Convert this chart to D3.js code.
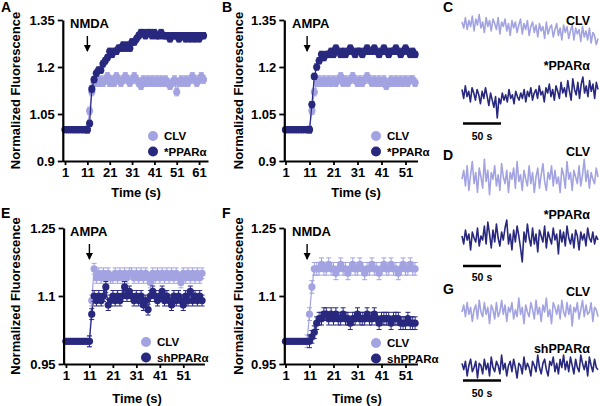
<!DOCTYPE html>
<html><head><meta charset="utf-8">
<script src="https://cdn.jsdelivr.net/npm/d3@7"></script>
<style>
body{margin:0;background:#fff;}
svg{display:block;font-family:"Liberation Sans",Arial,sans-serif;font-weight:bold;}
</style></head><body>
<svg id="c" width="600" height="406"></svg>
<script>
const LIGHT = "#a3a3e2", DARK = "#28287f";

// ---------- Panel data (sampled every 1 s, t = index + 1) ----------
const A_CLV = [1.00,1.00,1.00,1.00,1.00,1.00,1.00,1.00,1.00,1.00,1.00,
  1.06,1.12,1.15,1.16,1.15,1.16,1.15,1.16,1.17,1.15,1.16,1.15,1.17,1.16,1.15,1.16,1.17,1.16,1.15,
  1.16,1.17,1.16,1.15,1.14,1.16,1.15,1.16,1.15,1.16,1.15,1.16,1.15,1.16,1.15,1.16,1.15,1.14,1.15,1.16,
  1.12,1.15,1.16,1.15,1.16,1.15,1.16,1.17,1.16,1.15,1.16,1.17,1.16];
const A_PPAR = [1.00,1.00,1.00,1.00,1.00,1.00,1.00,1.00,1.00,1.00,1.00,
  1.02,1.13,1.16,1.18,1.19,1.19,1.21,1.22,1.23,1.25,1.24,1.25,1.25,1.26,1.26,1.27,1.26,1.27,1.26,
  1.28,1.28,1.29,1.30,1.31,1.31,1.30,1.31,1.31,1.30,1.31,1.30,1.30,1.31,1.30,1.30,1.30,1.29,1.30,1.30,
  1.30,1.29,1.30,1.30,1.29,1.30,1.29,1.30,1.29,1.30,1.29,1.30,1.30];

const B_CLV = [1.00,1.00,1.00,1.00,1.00,1.00,1.00,1.00,1.00,1.00,1.00,
  1.06,1.12,1.15,1.16,1.15,1.16,1.15,1.16,1.15,1.16,1.15,1.16,1.17,1.15,1.16,1.15,1.16,1.17,1.16,
  1.15,1.16,1.15,1.16,1.17,1.16,1.15,1.16,1.15,1.16,1.15,1.16,1.14,1.15,1.16,1.15,1.16,1.15,1.16,1.15,
  1.16,1.15,1.16,1.16,1.15];
const B_PPAR = [1.00,1.00,1.00,1.00,1.00,1.00,1.00,1.00,1.00,1.00,1.00,
  1.08,1.17,1.20,1.22,1.24,1.23,1.24,1.24,1.25,1.24,1.26,1.25,1.24,1.25,1.24,1.25,1.26,1.25,1.24,
  1.25,1.25,1.24,1.25,1.26,1.25,1.25,1.26,1.25,1.24,1.25,1.26,1.25,1.24,1.25,1.25,1.26,1.25,1.24,1.25,
  1.26,1.25,1.24,1.25,1.24];

const E_CLV = [1.00,1.00,1.00,1.00,1.00,1.00,1.00,1.00,1.00,1.00,1.00,
  1.09,1.16,1.14,1.15,1.14,1.15,1.14,1.15,1.14,1.14,1.15,1.14,1.15,1.14,1.15,1.14,1.15,1.15,1.14,
  1.15,1.14,1.15,1.14,1.15,1.14,1.13,1.15,1.14,1.15,1.14,1.15,1.14,1.15,1.14,1.15,1.14,1.15,1.14,1.13,
  1.15,1.14,1.15,1.14,1.15,1.14,1.15,1.14,1.15];
const E_SH = [1.00,1.00,1.00,1.00,1.00,1.00,1.00,1.00,1.00,1.00,1.00,
  1.06,1.10,1.09,1.10,1.09,1.10,1.12,1.08,1.09,1.10,1.09,1.10,1.09,1.10,1.12,1.10,1.11,1.10,1.09,
  1.10,1.09,1.10,1.08,1.09,1.07,1.10,1.11,1.10,1.09,1.10,1.11,1.09,1.10,1.09,1.08,1.10,1.09,1.10,1.09,
  1.08,1.10,1.09,1.11,1.09,1.10,1.09,1.10,1.09];

const F_CLV = [1.00,1.00,1.00,1.00,1.00,1.00,1.00,1.00,1.00,1.00,
  1.06,1.12,1.16,1.16,1.16,1.17,1.16,1.16,1.17,1.16,1.16,1.15,1.16,1.17,1.16,1.16,1.15,1.16,1.17,1.16,
  1.16,1.17,1.16,1.15,1.16,1.16,1.17,1.16,1.16,1.15,1.16,1.17,1.16,1.16,1.17,1.16,1.16,1.15,1.16,1.17,
  1.16,1.16,1.17,1.16,1.16];
const F_SH = [1.00,1.00,1.00,1.00,1.00,1.00,1.00,1.00,1.00,1.00,1.00,
  1.01,1.02,1.04,1.05,1.05,1.06,1.06,1.05,1.06,1.05,1.06,1.05,1.05,1.06,1.05,1.05,1.04,1.05,1.05,
  1.06,1.05,1.05,1.05,1.06,1.05,1.05,1.06,1.05,1.04,1.05,1.05,1.05,1.05,1.04,1.05,1.05,1.05,1.04,1.04,
  1.04,1.05,1.04,1.04,1.04];

const SEM = {A_CLV:0.012, A_PPAR:0.010, B_CLV:0.012, B_PPAR:0.010, E_CLV:0.012, E_SH:0.012, F_CLV:0.014, F_SH:0.014};

// tick labels
const yTicksAB = [0.9, 1.05, 1.2, 1.35];
const yTickLabelsAB = ["0.9", "1.05", "1.2", "1.35"];
const yTicksEF = [0.95, 1.1, 1.25];
const yTickLabelsEF = ["0.95", "1.1", "1.25"];
const xTicksA = [1, 11, 21, 31, 41, 51, 61];
const xTicksBEF = [1, 11, 21, 31, 41, 51];

// ---------- Calcium traces (arbitrary units) ----------
const C_CLV = [6,2,9,1,7,3,10,0,8,4,11,2,6,-1,9,3,7,0,8,5,1,9,-2,6,3,8,0,5,-3,7,2,6,-1,4,8,-2,5,1,7,-3,3,6,-1,4,-4,5,0,3,-5,6,-2,2,4,-4,1,5,-3,2,-6,4,-1,3,-5,0,4,-6,2,-2,1,-7,3,-4,0,-6,2,-8,-1,-3,-9,-5];
const C_PPAR = [2,-3,4,-2,1,-5,3,0,-4,2,-1,-6,1,-3,3,-2,-7,0,-4,-8,-2,-14,-3,-6,0,-4,-1,-5,2,-3,-1,-6,1,-2,-4,0,-3,2,-5,1,-2,3,-4,0,2,-3,4,-1,1,-5,3,0,5,-2,2,-4,4,1,-3,6,0,3,-2,7,1,-4,8,2,-1,6,-3,5,9,0,4,-2,7,1,5,-3,6,2];
const D_CLV = [0,4,-3,6,-5,2,8,-2,3,-6,5,1,-4,9,-1,4,-7,3,0,6,-3,2,-5,7,1,-2,4,-6,3,0,5,-4,8,-1,2,-5,4,0,-3,6,-2,3,-6,1,5,-4,2,7,-1,-5,3,0,6,-3,4,-2,1,-6,5,2,-4,8,0,3,-5,4,1,-2,6,-3,2,9,-1,4,-4,3,0,-2,5,1];
const D_PPAR = [1,-3,4,-1,2,-6,3,0,-2,5,-4,1,-1,6,-3,8,2,-5,4,-2,7,0,-4,3,-1,5,9,-3,2,-6,4,-2,6,1,-5,-12,3,-2,7,0,-4,5,-3,2,-7,4,1,-2,6,-5,3,0,-3,5,-1,2,-8,4,-2,3,-4,6,0,-3,2,-5,4,1,-6,3,-1,2,-4,5,0,-2,3,-3,1,-1];
const G_CLV = [0,3,-2,4,-1,2,-4,1,3,-3,5,0,-2,4,-1,2,-5,3,1,-3,4,-2,0,5,-1,3,-4,2,0,4,-3,1,-2,6,-1,2,-5,3,0,-2,4,1,-3,5,-1,2,-4,3,0,6,-2,1,-5,4,2,-1,3,-3,5,0,-2,4,-1,3,-6,2,0,4,-3,1,5,-2,3,-1,0,4,-4,2,1,-2];
const G_SH = [2,-1,3,-4,1,4,-2,0,3,-5,2,1,-3,4,-1,2,-4,5,0,-2,3,1,-3,6,-1,2,-4,1,3,-2,4,0,-5,2,1,-3,5,-1,2,0,-4,3,1,-2,6,0,-3,2,4,-1,-4,3,1,5,-2,2,-3,4,0,6,-1,3,-2,5,1,-3,4,0,-2,6,2,-1,3,-4,5,1,-2,4,0,-1];

const svg = d3.select("#c");
svg.append("rect").attr("width",600).attr("height",406).attr("fill","#fff");

function panel(o) {
  const g = svg.append("g");
  const x = d3.scaleLinear().domain(o.xDomain).range(o.xRange);
  const y = d3.scaleLinear().domain(o.yDomain).range(o.yRange);

  o.series.forEach(s => {
    const pts = s.values.map((v, i) => ({t: i + 1, v}));
    const sg = g.append("g");
    const eb = pts.filter(p => p.t >= s.errFrom);
    sg.selectAll("line.eb").data(eb).join("line")
      .attr("x1", d => x(d.t)).attr("x2", d => x(d.t))
      .attr("y1", d => y(d.v - s.sem)).attr("y2", d => y(d.v + s.sem))
      .attr("stroke", s.color).attr("stroke-width", 1);
    sg.selectAll("line.cap").data(eb.flatMap(d => [d.v - s.sem, d.v + s.sem].map(v => ({t: d.t, v}))))
      .join("line")
      .attr("x1", d => x(d.t) - 2.5).attr("x2", d => x(d.t) + 2.5)
      .attr("y1", d => y(d.v)).attr("y2", d => y(d.v))
      .attr("stroke", s.color).attr("stroke-width", 1);
    sg.append("path").datum(pts)
      .attr("d", d3.line().x(d => x(d.t)).y(d => y(d.v)))
      .attr("fill", "none").attr("stroke", s.color).attr("stroke-width", 1.2);
    sg.selectAll("circle").data(pts).join("circle")
      .attr("cx", d => x(d.t)).attr("cy", d => y(d.v)).attr("r", 3.6)
      .attr("fill", s.color);
  });

  // axes
  const xa = g.append("g").attr("transform", `translate(0,${o.yRange[0]})`)
    .call(d3.axisBottom(x).tickValues(o.xTicks).tickSize(4).tickSizeOuter(0).tickPadding(3).tickFormat(d3.format("d")));
  const ya = g.append("g").attr("transform", `translate(${o.xRange[0]},0)`)
    .call(d3.axisLeft(y).tickValues(o.yTicks).tickSize(5).tickSizeOuter(0).tickPadding(3)
      .tickFormat((d, i) => o.yTickLabels[i]));
  [xa, ya].forEach(a => {
    a.attr("font-family", null).attr("font-size", null);
    a.select(".domain").attr("stroke", "#000").attr("stroke-width", 2.2);
    a.selectAll(".tick line").attr("stroke", "#000").attr("stroke-width", 1.8);
    a.selectAll(".tick text").attr("fill", "#000").style("font-size", "13px");
  });
  // extend y axis slightly down to meet the x axis
  g.append("line").attr("x1", o.xRange[0]).attr("x2", o.xRange[0])
    .attr("y1", o.yRange[0]).attr("y2", o.yRange[0] + 1).attr("stroke", "#000").attr("stroke-width", 2.2);

  // axis titles
  g.append("text").attr("x", o.xTitleX).attr("y", o.xTitleY).attr("text-anchor", "middle")
    .style("font-size", "13px").text("Time (s)");
  g.append("text").attr("transform", `translate(${o.yTitleX},${(o.yRange[0] + o.yRange[1]) / 2}) rotate(-90)`)
    .attr("text-anchor", "middle").attr("dy", "0.35em").style("font-size", "13px").text("Normalized Fluorescence");

  // panel letter
  g.append("text").attr("x", o.letterX).attr("y", o.letterY).style("font-size", "14px").text(o.letter);

  // stimulus annotation
  const ax = x(o.stimT);
  g.append("text").attr("x", o.stimTextX).attr("y", o.yRange[1] + 8).style("font-size", "13px").text(o.stim);
  g.append("line").attr("x1", ax).attr("x2", ax).attr("y1", o.yRange[1] + 16).attr("y2", o.yRange[1] + 31)
    .attr("stroke", "#000").attr("stroke-width", 1.4);
  g.append("path").attr("d", `M${ax - 3.5},${o.yRange[1] + 25} L${ax},${o.yRange[1] + 32} L${ax + 3.5},${o.yRange[1] + 25} Z`)
    .attr("fill", "#000");

  // legend
  o.series.forEach((s, i) => {
    const ly = o.legendY + i * 15.5;
    g.append("circle").attr("cx", o.legendX).attr("cy", ly).attr("r", 5).attr("fill", s.color);
    g.append("text").attr("x", o.legendX + 11).attr("y", ly).attr("dy", "0.35em")
      .style("font-size", "11.5px").text(s.name);
  });
}

panel({
  letter: "A", letterX: 1, letterY: 12,
  xDomain: [0, 65], xRange: [62.8, 208], xTicks: xTicksA,
  yDomain: [0.9, 1.35], yRange: [161, 20], yTicks: yTicksAB, yTickLabels: yTickLabelsAB,
  xTitleX: 136, xTitleY: 197, yTitleX: 15,
  stim: "NMDA", stimT: 11, stimTextX: 70,
  legendX: 153, legendY: 136,
  series: [
    {name: "CLV", values: A_CLV, color: LIGHT, sem: SEM.A_CLV, errFrom: 11},
    {name: "*PPARα", values: A_PPAR, color: DARK, sem: SEM.A_PPAR, errFrom: 11}
  ]
});
panel({
  letter: "B", letterX: 222, letterY: 12,
  xDomain: [0.5, 56], xRange: [284.3, 417.5], xTicks: xTicksBEF,
  yDomain: [0.9, 1.35], yRange: [161, 20], yTicks: yTicksAB, yTickLabels: yTickLabelsAB,
  xTitleX: 356, xTitleY: 197, yTitleX: 238,
  stim: "AMPA", stimT: 10, stimTextX: 292,
  legendX: 376, legendY: 136,
  series: [
    {name: "CLV", values: B_CLV, color: LIGHT, sem: SEM.B_CLV, errFrom: 11},
    {name: "*PPARα", values: B_PPAR, color: DARK, sem: SEM.B_PPAR, errFrom: 11}
  ]
});
panel({
  letter: "E", letterX: 1, letterY: 218,
  xDomain: [0, 60], xRange: [63.6, 204.4], xTicks: xTicksBEF,
  yDomain: [0.95, 1.25], yRange: [364, 228], yTicks: yTicksEF, yTickLabels: yTickLabelsEF,
  xTitleX: 137, xTitleY: 403, yTitleX: 15,
  stim: "AMPA", stimT: 11, stimTextX: 70,
  legendX: 146, legendY: 342,
  series: [
    {name: "CLV", values: E_CLV, color: LIGHT, sem: SEM.E_CLV, errFrom: 11},
    {name: "shPPARα", values: E_SH, color: DARK, sem: SEM.E_SH, errFrom: 11}
  ]
});
panel({
  letter: "F", letterX: 222, letterY: 218,
  xDomain: [0.5, 56], xRange: [284.3, 417.5], xTicks: xTicksBEF,
  yDomain: [0.95, 1.25], yRange: [364, 228], yTicks: yTicksEF, yTickLabels: yTickLabelsEF,
  xTitleX: 357, xTitleY: 403, yTitleX: 238,
  stim: "NMDA", stimT: 10, stimTextX: 292,
  legendX: 376, legendY: 343,
  series: [
    {name: "CLV", values: F_CLV, color: LIGHT, sem: SEM.F_CLV, errFrom: 10},
    {name: "shPPARα", values: F_SH, color: DARK, sem: SEM.F_SH, errFrom: 11}
  ]
});

// ---------- traces ----------
function trace(values, yDom, yRan, color) {
  const x = d3.scaleLinear().domain([0, values.length - 1]).range([462, 598]);
  const y = d3.scaleLinear().domain(yDom).range(yRan);
  svg.append("path").datum(values)
    .attr("d", d3.line().x((d, i) => x(i)).y(d => y(d)))
    .attr("fill", "none").attr("stroke", color).attr("stroke-width", 1.6).attr("stroke-linejoin", "round");
}
function label(txt, xEnd, yBase, size) {
  svg.append("text").attr("x", xEnd).attr("y", yBase).attr("text-anchor", "end").style("font-size", size + "px").text(txt);
}
function scaleBar(yLine, yText) {
  const sx = d3.scaleLinear().domain([0, 50]).range([463, 501]);
  svg.append("line").attr("x1", sx(0)).attr("x2", sx(50)).attr("y1", yLine).attr("y2", yLine)
    .attr("stroke", "#000").attr("stroke-width", 2.4);
  svg.append("text").attr("x", sx(25)).attr("y", yText).attr("text-anchor", "middle").style("font-size", "10.5px").text("50 s");
}
function letter(t, x, y) {
  svg.append("text").attr("x", x).attr("y", y).style("font-size", "14px").text(t);
}

letter("C", 443, 12);
trace(C_CLV, [-10, 12], [46, 13], LIGHT);
label("CLV", 590, 25, 12.5);
label("*PPARα", 590, 70, 12.5);
trace(C_PPAR, [-14, 9], [118, 77], DARK);
scaleBar(123.5, 140);

letter("D", 443, 160);
trace(D_CLV, [-8, 10], [197, 157], LIGHT);
label("CLV", 590, 156, 12.5);
label("*PPARα", 590, 219, 12.5);
trace(D_PPAR, [-12, 9], [262, 220], DARK);
scaleBar(266, 281);

letter("G", 443, 294);
trace(G_CLV, [-6, 6], [326, 298], LIGHT);
label("CLV", 590, 296, 12.5);
label("shPPARα", 590, 353, 12.5);
trace(G_SH, [-5, 6], [378, 355], DARK);
scaleBar(380.5, 397);
</script>
</body></html>
